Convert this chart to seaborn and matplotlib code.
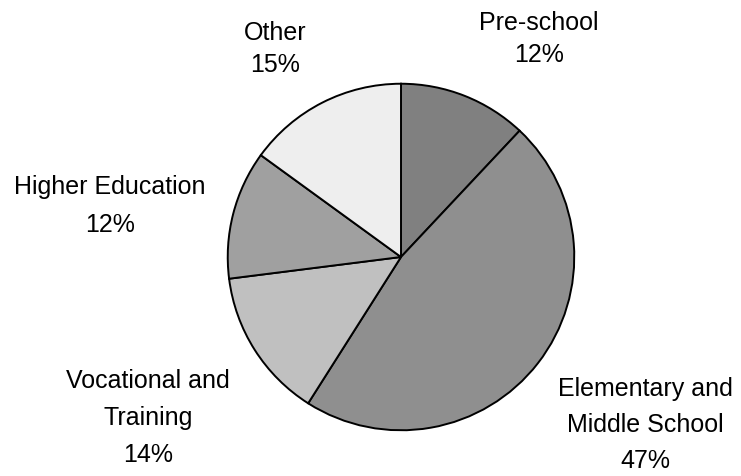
import matplotlib
matplotlib.use("Agg")
import matplotlib.pyplot as plt
import seaborn as sns

categories = ["Pre-school", "Elementary and\nMiddle School", "Vocational and\nTraining", "Higher Education", "Other"]
values = [12, 47, 14, 12, 15]
colors = ["#808080", "#8f8f8f", "#c0c0c0", "#a0a0a0", "#eeeeee"]

sns.set_theme(style="white")
plt.rcParams["font.family"] = ["Liberation Sans", "DejaVu Sans"]

W, H = 741, 476
fig = plt.figure(figsize=(W / 100, H / 100), dpi=100)
fig.patch.set_facecolor("white")

# pie centre (401, 257) px, radius 175 px
cx, cy, r = 401, 257, 175
ax = fig.add_axes([(cx - r) / W, (H - cy - r) / H, 2 * r / W, 2 * r / H])
ax.pie(values, colors=colors, startangle=90, counterclock=False,
       wedgeprops=dict(edgecolor="black", linewidth=1.4), radius=1)
ax.set_xlim(-1.01, 1.01)
ax.set_ylim(-1.01, 1.01)
ax.axis("off")

# label block centres in pixels (x, y from top) and line spacing
label_pos = [(539, 39), (645, 425), (148, 418), (110, 206), (275, 49)]
spacings = [1.45, 1.65, 1.7, 1.7, 1.45]
for name, v, (px, py), ls in zip(categories, values, label_pos, spacings):
    fig.text(px / W, 1 - py / H, f"{name}\n{v}%", ha="center", va="center",
             fontsize=18, color="black", linespacing=ls)

fig.savefig("out.png", dpi=100, facecolor="white")
